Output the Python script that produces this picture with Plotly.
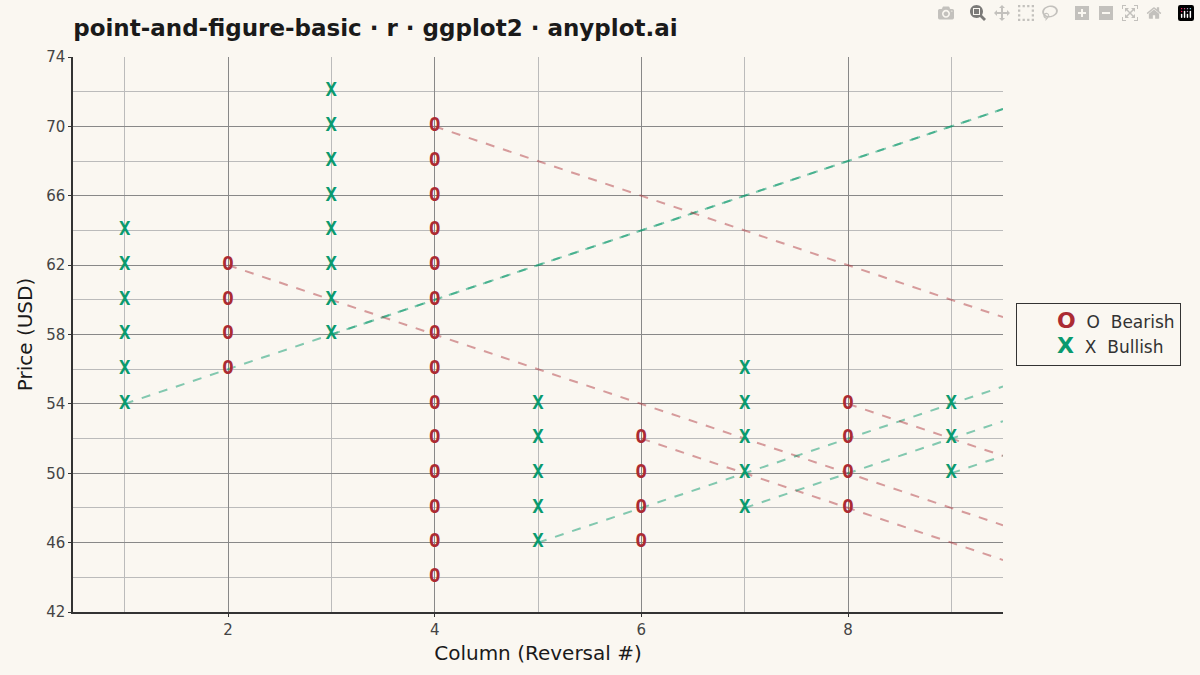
import plotly.graph_objects as go

columns = [1, 2, 3, 4, 5, 6, 7, 8, 9]
col_types = ["X", "O", "X", "O", "X", "O", "X", "O", "X"]
col_low = [54, 56, 58, 44, 46, 46, 48, 48, 50]
col_high = [64, 62, 72, 70, 54, 52, 56, 54, 54]
box_size = 2
x_max = 9.5

RED = "#ab2b33"
GREEN = "#0a9a6e"
BG = "#faf7f1"

fig = go.Figure()

for c, t, lo, hi in zip(columns, col_types, col_low, col_high):
    if t == "X":
        y0, slope, col = lo, box_size, "rgba(10,154,110,0.5)"
    else:
        y0, slope, col = hi, -box_size, "rgba(171,43,51,0.45)"
    fig.add_trace(go.Scatter(x=[c, x_max], y=[y0, y0 + slope * (x_max - c)], mode="lines",
                             line=dict(color=col, width=2, dash="dash"), showlegend=False,
                             hoverinfo="skip"))

for c, t, lo, hi in zip(columns, col_types, col_low, col_high):
    ys = list(range(lo, hi + 1, box_size))
    fig.add_trace(go.Scatter(x=[c] * len(ys), y=ys, mode="text", text=[f"<b>{t}</b>"] * len(ys),
                             textfont=dict(family="DejaVu Sans Mono", size=19,
                                           color=GREEN if t == "X" else RED),
                             showlegend=False))

for t, name, col in [("O", "Bearish", RED), ("X", "Bullish", GREEN)]:
    fig.add_trace(go.Scatter(x=[None], y=[None], mode="markers",
                             marker=dict(size=1, color="rgba(0,0,0,0)"),
                             name=f"<span style='color:{col};font-size:22px'><b>{t}</b></span>  {t}  {name}"))

fig.update_layout(
    width=1200, height=675, paper_bgcolor=BG, plot_bgcolor=BG,
    margin=dict(l=73, r=197, t=57, b=63),
    title=dict(text="<b>point-and-figure-basic · r · ggplot2 · anyplot.ai</b>", x=0.061, y=0.97,
               xanchor="left", font=dict(family="DejaVu Sans", size=23, color="#1a1a1a")),
    font=dict(family="DejaVu Sans", color="#333"),
    legend=dict(x=1.014, y=0.5, yanchor="middle", bgcolor=BG, bordercolor="#333", borderwidth=1,
                font=dict(size=17, color="#333"), itemwidth=30, tracegroupgap=0),
    xaxis=dict(range=[0.5, x_max], tickvals=[2, 4, 6, 8], showgrid=True, gridcolor="#888",
               gridwidth=1, minor=dict(tickvals=[1, 3, 5, 7, 9], showgrid=True, gridcolor="#bbb"),
               zeroline=False, showline=True, linecolor="#333", linewidth=1.5,
               ticks="outside", ticklen=3, tickcolor="#333",
               title=dict(text="Column (Reversal #)", font=dict(size=20, color="#1a1a1a"), standoff=8),
               tickfont=dict(size=15, color="#444")),
    yaxis=dict(range=[42, 74], dtick=4, tick0=42, showgrid=True, gridcolor="#888",
               minor=dict(dtick=2, showgrid=True, gridcolor="#bbb"),
               zeroline=False, showline=True, linecolor="#333", linewidth=1.5,
               ticks="outside", ticklen=3, tickcolor="#333",
               title=dict(text="Price (USD)", font=dict(size=20, color="#1a1a1a"), standoff=8),
               tickfont=dict(size=15, color="#444")),
)

fig.write_html("out.html", post_script="document.body.style.margin='0';document.body.style.background='" + BG + "';")
